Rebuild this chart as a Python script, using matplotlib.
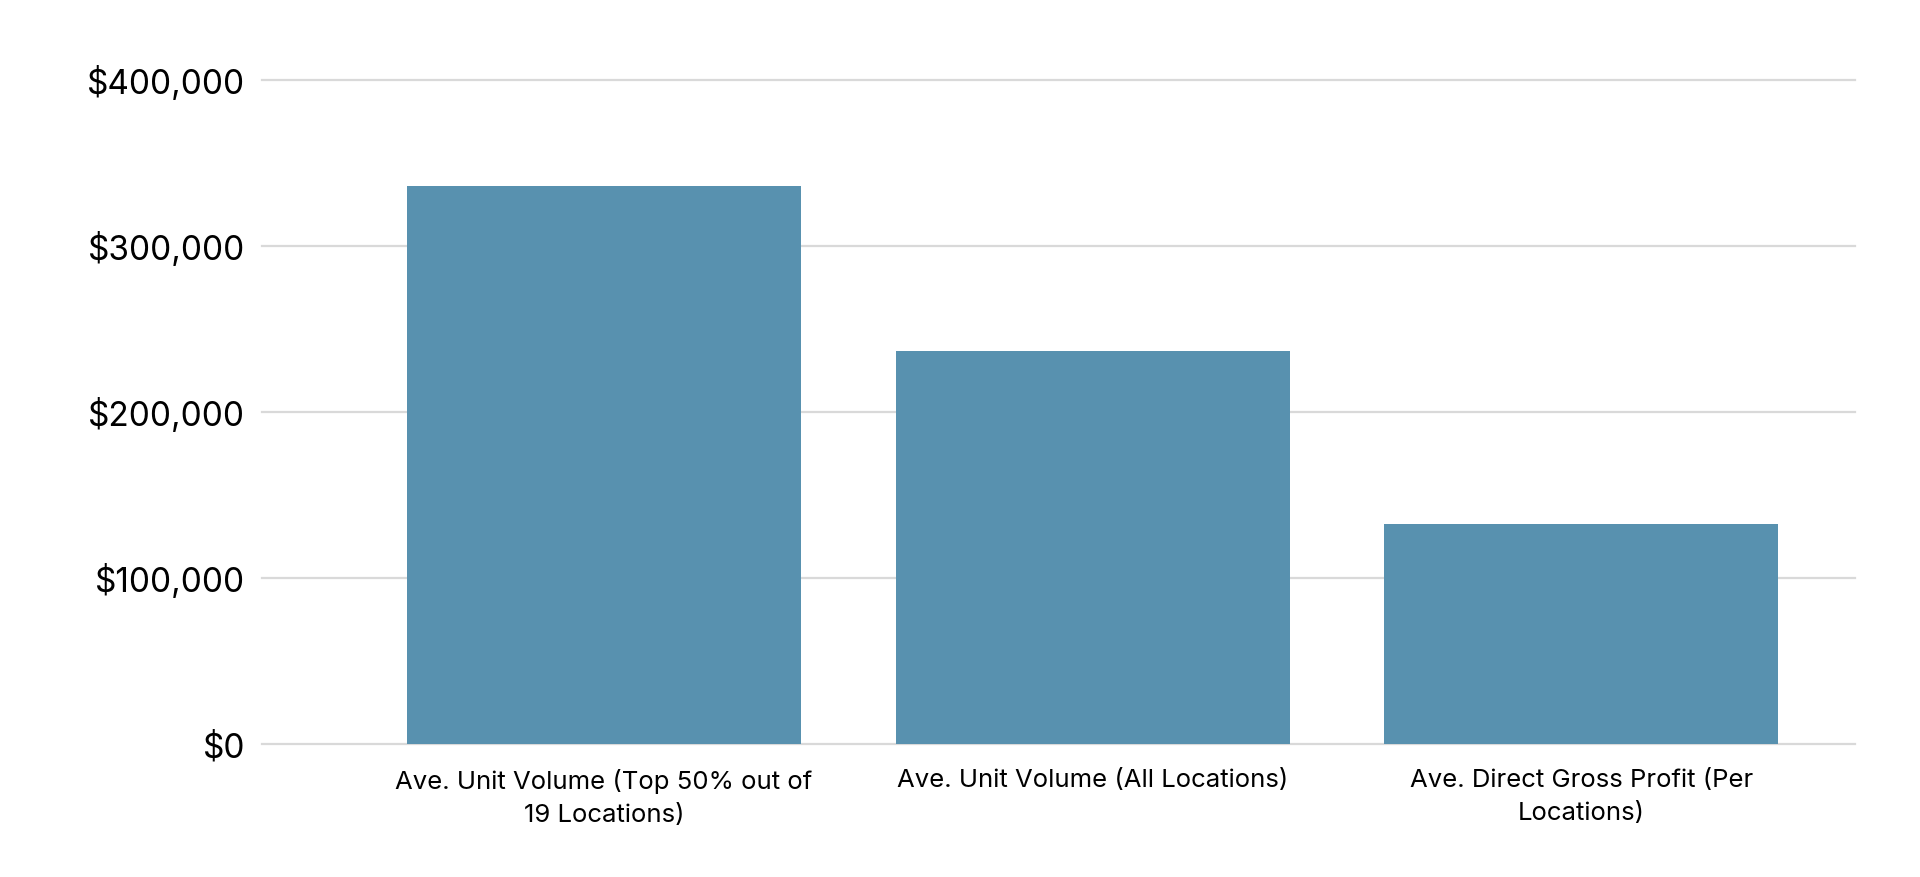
import matplotlib
matplotlib.use("Agg")
import matplotlib.pyplot as plt
from matplotlib.ticker import FuncFormatter

categories = [
    "Ave. Unit Volume (Top 50% out of\n19 Locations)",
    "Ave. Unit Volume (All Locations)",
    "Ave. Direct Gross Profit (Per\nLocations)",
]
values = [336000, 236500, 132600]
y_ticks = [0, 100000, 200000, 300000, 400000]

plt.rcParams['font.family'] = ['Inter', 'DejaVu Sans']

fig = plt.figure(figsize=(19.2, 8.77), dpi=100)
ax = fig.add_axes([0.1365, 0.1511, 0.8296, 0.7960])

ax.bar(range(len(categories)), values, width=0.806, color="#5891af", zorder=2)

ax.set_xlim(-0.70, 2.56)
ax.set_ylim(0, 420000)
ax.set_yticks(y_ticks)
ax.yaxis.set_major_formatter(FuncFormatter(lambda v, p: f"${v:,.0f}"))
ax.set_xticks(range(len(categories)))
ax.set_xticklabels(categories, fontsize=18.5, linespacing=1.55)

ax.tick_params(axis="y", length=0, pad=12, labelsize=24)
ax.tick_params(axis="x", length=0, pad=18)

ax.grid(axis="y", color="#d9d9d9", linewidth=1.6, zorder=1)
for ln in ax.get_ygridlines():
    ln.set_clip_on(False)
for s in ax.spines.values():
    s.set_visible(False)

fig.savefig("out.png", dpi=100, facecolor="white")
